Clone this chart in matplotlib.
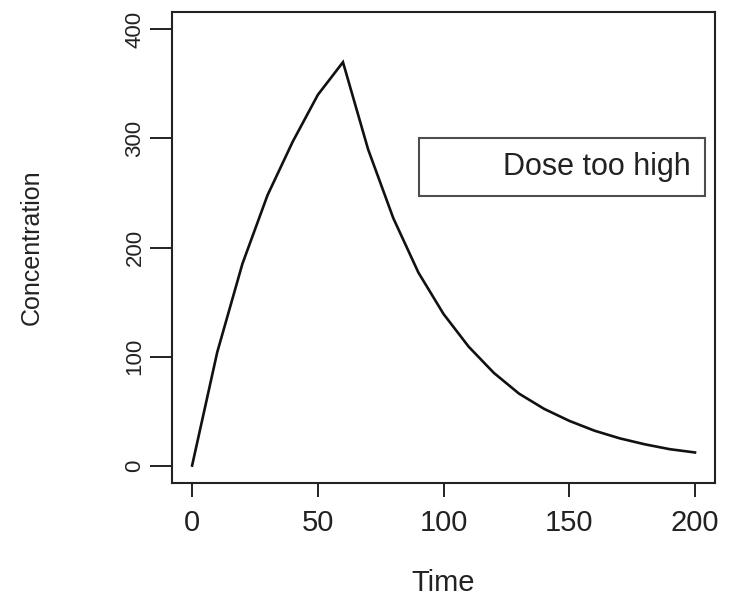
import matplotlib.pyplot as plt

# drug concentration: infusion for 60 time units, then elimination
time = [0, 10, 20, 30, 40, 50, 60, 70, 80, 90, 100,
        110, 120, 130, 140, 150, 160, 170, 180, 190, 200]
concentration = [0, 104, 185, 248, 297, 340, 370, 290, 227, 177, 139,
                 109, 85, 66, 52, 41, 32, 25, 19.5, 15, 12]
x_ticks = [0, 50, 100, 150, 200]
y_ticks = [0, 100, 200, 300, 400]
legend_label = 'Dose too high'

plt.rcParams['font.family'] = ['Liberation Sans', 'DejaVu Sans']

fig = plt.figure(figsize=(7.3, 6.0), dpi=100)
ax = fig.add_axes([0.2356, 0.195, 0.744, 0.785])

ax.plot(time, concentration, color='#111111', linewidth=1.9,
        solid_joinstyle='miter')

ax.set_xlim(-8, 208)
ax.set_ylim(-16, 416)
ax.set_xticks(x_ticks)
ax.set_yticks(y_ticks)
ax.tick_params(axis='x', direction='out', length=10, width=1.4,
               labelsize=21, colors='#222222', pad=9)
ax.tick_params(axis='y', direction='out', length=16, width=1.4,
               labelsize=16, colors='#222222', pad=3)
for lab in ax.get_yticklabels():
    lab.set_rotation(90)
    lab.set_va('center')
for sp in ax.spines.values():
    sp.set_linewidth(1.5)
    sp.set_color('#222222')

ax.set_xlabel('Time', fontsize=21, color='#222222', labelpad=23)
ax.set_ylabel('Concentration', fontsize=18, color='#222222', labelpad=58)

leg = ax.legend([plt.Line2D([], [], linestyle='none')], [legend_label],
                loc='upper right', bbox_to_anchor=(0.9816, 0.7325),
                fontsize=22, frameon=True, fancybox=False,
                handlelength=1.7, handletextpad=0.6, borderpad=0.46,
                borderaxespad=0)
leg.get_frame().set_edgecolor('#222222')
leg.get_frame().set_linewidth(1.5)
for t in leg.get_texts():
    t.set_color('#222222')

fig.savefig('out.png', dpi=100)
